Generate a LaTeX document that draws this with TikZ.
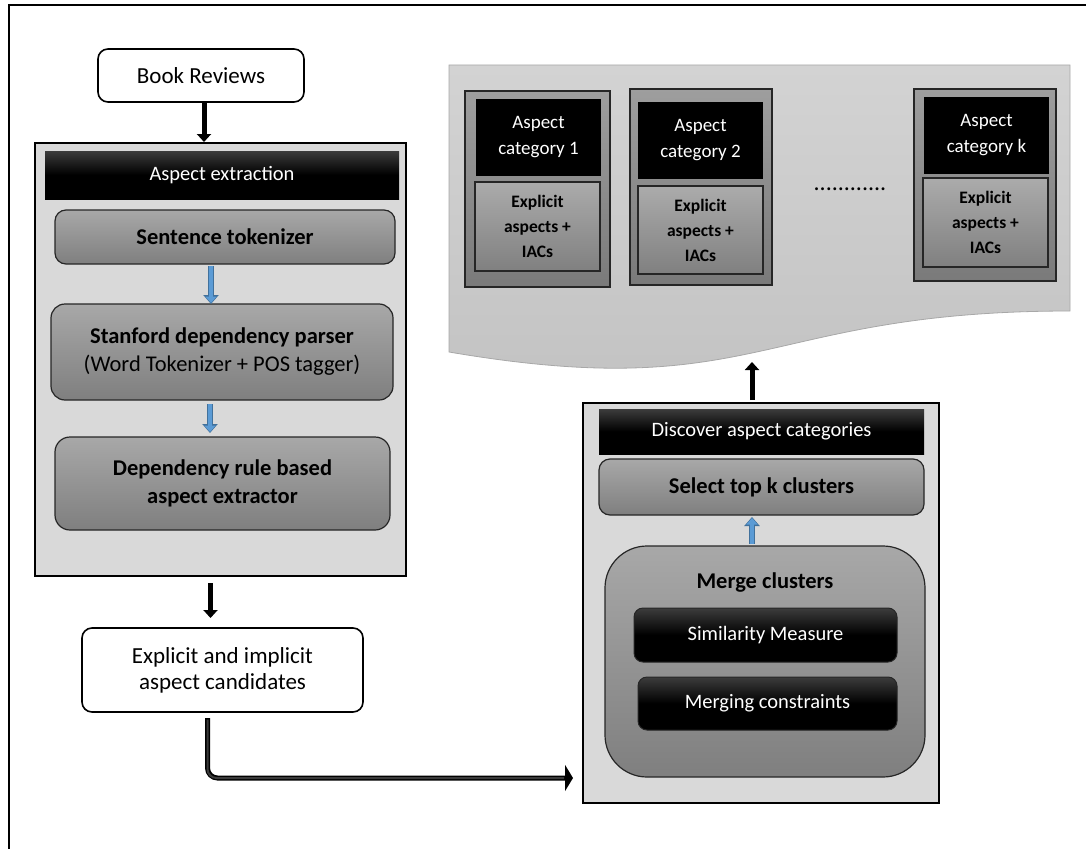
\documentclass[tikz,border=0pt]{standalone}
\usepackage{fontspec}
\setmainfont{Carlito}
\usetikzlibrary{arrows.meta,calc}
\definecolor{contgray}{HTML}{D9D9D9}
\definecolor{hdrtop}{HTML}{3C3C3C}
\definecolor{gtop}{HTML}{A8A8A8}
\definecolor{gbot}{HTML}{7F7F7F}
\definecolor{ctop}{HTML}{9E9E9E}
\definecolor{cbot}{HTML}{7A7A7A}
\definecolor{etop}{HTML}{ABABAB}
\definecolor{ebot}{HTML}{808080}
\definecolor{wavetop}{HTML}{D3D3D3}
\definecolor{wavebot}{HTML}{C2C2C2}
\definecolor{waveedge}{HTML}{A8A8A8}
\definecolor{blueedge}{HTML}{41719C}
\definecolor{bluefill}{HTML}{5B9BD5}
\definecolor{connin}{HTML}{3A3A3A}
\tikzset{
 base/.style={inner sep=0pt, outer sep=0pt, align=center},
 whitebox/.style={base, draw=black, line width=1.6pt, fill=white, rounded corners=10pt, font=\fontsize{23}{26}\selectfont},
 container/.style={base, draw=black, line width=1.8pt, fill=contgray},
 header/.style={base, top color=hdrtop, bottom color=black, middle color=black, text=white, font=\fontsize{20.5}{25}\selectfont},
 graybox/.style={base, draw=black!85, line width=1.2pt, top color=gtop, bottom color=gbot, rounded corners=11pt, font=\bfseries\fontsize{22.5}{28}\selectfont},
 mergebox/.style={base, draw=black!85, line width=1.2pt, top color=gtop, bottom color=gbot, rounded corners=42pt},
 darkbox/.style={base, draw=black!85, line width=1pt, top color=hdrtop, bottom color=black, middle color=black, rounded corners=9pt, text=white, font=\fontsize{20.5}{25}\selectfont},
 catouter/.style={base, draw=black!85, line width=1.2pt, top color=ctop, bottom color=cbot},
 cathead/.style={base, fill=black, text=white, font=\fontsize{19}{26}\selectfont},
 catbody/.style={base, draw=black!85, line width=1.2pt, top color=etop, bottom color=ebot, font=\bfseries\fontsize{17.5}{25}\selectfont},
 wavestyle/.style={draw=waveedge, line width=0.8pt, top color=wavetop, bottom color=wavebot},
 blackarrow/.style={line width=5pt, draw=black, -{Triangle[width=14pt,length=8pt]}},
 bluearrowout/.style={line width=5.5pt, draw=blueedge, -{Triangle[width=15pt,length=9pt]}},
 bluearrowin/.style={line width=3.5pt, draw=bluefill, shorten >=1pt, -{Triangle[width=11pt,length=6.5pt]}},
 connout/.style={line width=5pt, draw=black, rounded corners=10pt, -{Triangle[width=26pt,length=8pt]}},
 connin/.style={line width=2pt, draw=connin, rounded corners=9pt, shorten >=9pt},
}
\begin{document}
\begin{tikzpicture}[x=1pt,y=-1pt]
\useasboundingbox (0,0) rectangle (1086,848);
% outer frame (only top and left visible)
\draw[line width=2pt] (1095,5) -- (9,5) -- (9,855);

% document / wave shape
\path[wavestyle] (449,65) -- (1070,65) -- (1070,311) .. controls (759.5,311) and (759.5,405) .. (449,352) -- cycle;
\coordinate (wavetip) at (752,362);

% aspect categories
\node[catouter, minimum width=145pt, minimum height=196pt] (c1o) at (537.5,189) {};
\node[cathead, minimum width=125pt, minimum height=77pt] (c1h) at (538.5,137.5) {Aspect\\category 1};
\node[catbody, minimum width=125pt, minimum height=89pt] (c1e) at (537.5,226.5) {Explicit\\aspects +\\IACs};

\node[catouter, minimum width=142pt, minimum height=196pt] (c2o) at (701,187) {};
\node[cathead, minimum width=125pt, minimum height=77pt] (c2h) at (700.5,140.5) {Aspect\\category 2};
\node[catbody, minimum width=125pt, minimum height=88pt] (c2e) at (700.5,230) {Explicit\\aspects +\\IACs};

\node[base, anchor=base, font=\fontsize{24}{26}\selectfont] (dots) at (850,190) {............};

\node[catouter, minimum width=142pt, minimum height=192pt] (cko) at (985,185) {};
\node[cathead, minimum width=125pt, minimum height=77pt] (ckh) at (986.5,135.5) {Aspect\\category k};
\node[catbody, minimum width=125pt, minimum height=89pt] (cke) at (985.5,222.5) {Explicit\\aspects +\\IACs};

% left column
\node[whitebox, minimum width=206pt, minimum height=53pt] (book) at (201,75.5) {Book Reviews};
\node[container, minimum width=371pt, minimum height=433pt] (aecont) at (220.5,359.5) {};
\node[header, minimum width=354pt, minimum height=48pt] (aehead) at (222,175) {Aspect extraction};
\node[graybox, minimum width=340pt, minimum height=54pt] (sent) at (225,237) {Sentence tokenizer};
\node[graybox, rounded corners=14pt, minimum width=342pt, minimum height=96pt] (stan) at (222,352) {Stanford dependency parser\\\mdseries (Word Tokenizer + POS tagger)};
\node[graybox, rounded corners=15pt, minimum width=335pt, minimum height=93pt] (dep) at (222.5,483.5) {Dependency rule based\\aspect extractor};
\node[whitebox, minimum width=281pt, minimum height=84pt] (cand) at (222.5,670) {Explicit and implicit\\aspect candidates};

% right column
\node[container, minimum width=356pt, minimum height=400pt] (disc) at (761,603) {};
\node[header, minimum width=325pt, minimum height=45pt] (dhead) at (761.5,431.5) {Discover aspect categories};
\node[graybox, minimum width=325pt, minimum height=56pt] (sel) at (761.5,487) {Select top k clusters};
\node[mergebox, minimum width=320pt, minimum height=231pt] (merge) at (765,661.5) {};
\node[base, font=\bfseries\fontsize{22.5}{28}\selectfont] (mergelbl) at (765,583) {Merge clusters};
\node[darkbox, minimum width=263pt, minimum height=54pt] (sim) at (765.5,635) {Similarity Measure};
\node[darkbox, minimum width=259pt, minimum height=53pt] (mcon) at (767.5,703.5) {Merging constraints};

% arrows
\draw[blackarrow] ([xshift=3pt,yshift=-1.5pt]book.south) -- ([xshift=3pt,yshift=1pt]book.south |- aecont.north);
\draw[bluearrowout] ([xshift=-14pt,yshift=-2pt]sent.south) -- ([xshift=-14pt]sent.south |- stan.north);
\draw[bluearrowin] ([xshift=-14pt,yshift=-2pt]sent.south) -- ([xshift=-14pt]sent.south |- stan.north);
\draw[bluearrowout] ([xshift=-12pt,yshift=-4pt]stan.south) -- ([xshift=-12pt,yshift=4pt]stan.south |- dep.north);
\draw[bluearrowin] ([xshift=-12pt,yshift=-4pt]stan.south) -- ([xshift=-12pt,yshift=4pt]stan.south |- dep.north);
\draw[blackarrow] ([xshift=-10pt,yshift=-7pt]aecont.south) -- ([xshift=-10pt,yshift=10pt]aecont.south |- cand.north);
\draw[connout] ([xshift=-15pt,yshift=-6pt]cand.south) |- ([xshift=-10pt,yshift=-175pt]disc.west);
\draw[connin] ([xshift=-15pt,yshift=-7.5pt]cand.south) |- ([xshift=-10pt,yshift=-175pt]disc.west);
\draw[bluearrowout] ([xshift=-13pt,yshift=2pt]merge.north) -- ([xshift=-13pt,yshift=-2pt]merge.north |- sel.south);
\draw[bluearrowin] ([xshift=-13pt,yshift=2pt]merge.north) -- ([xshift=-13pt,yshift=-2pt]merge.north |- sel.south);
\draw[blackarrow] ([xshift=-9pt,yshift=3pt]disc.north) -- (wavetip);
\end{tikzpicture}
\end{document}
